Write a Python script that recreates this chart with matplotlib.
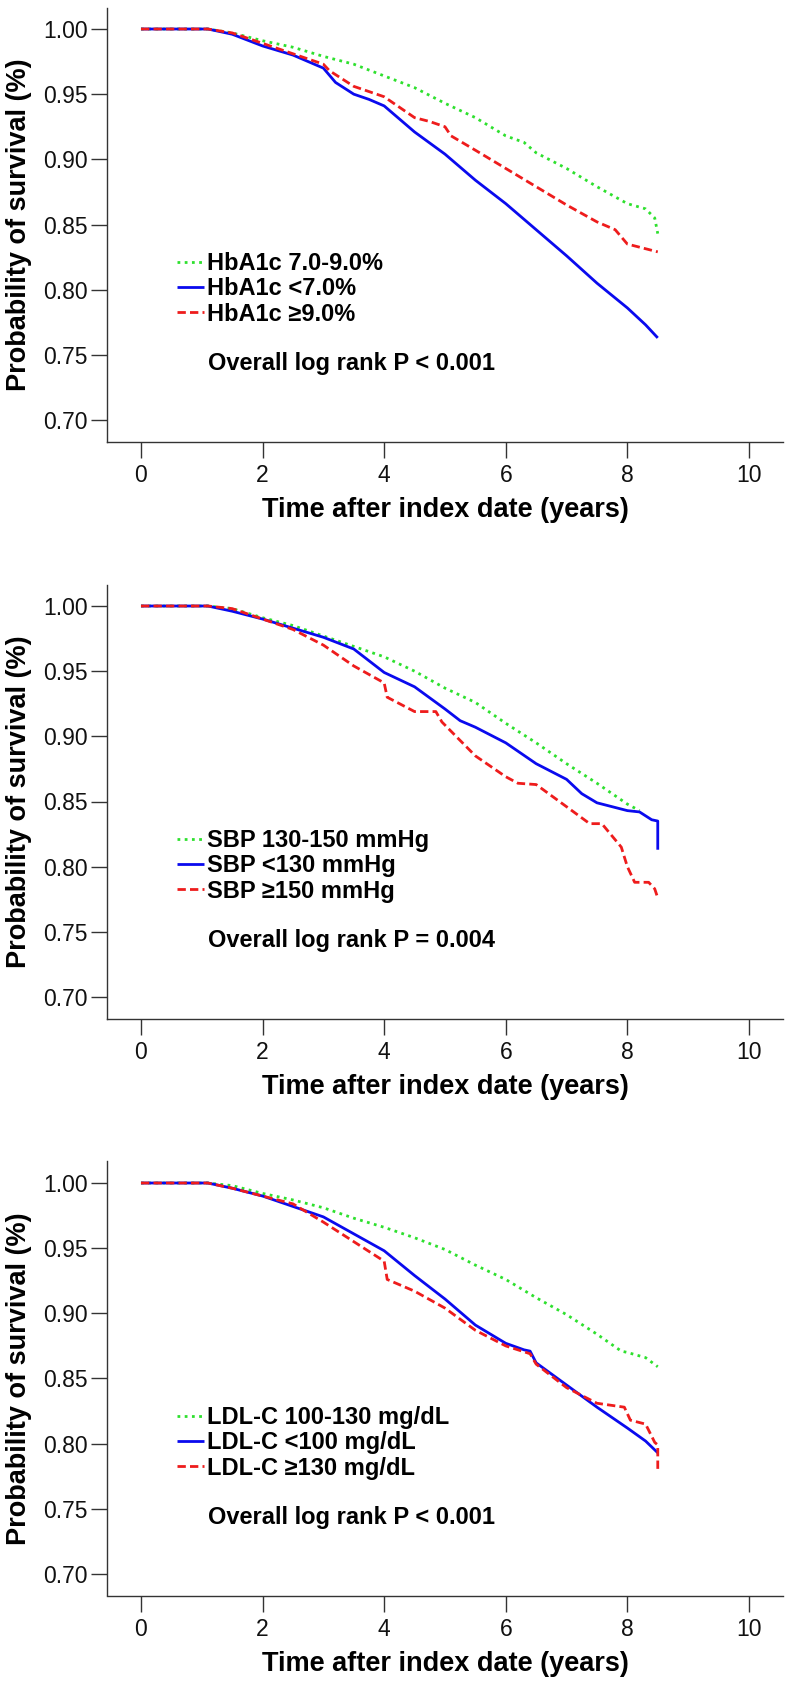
# ---------- IMPORT ------------
import matplotlib
matplotlib.use("Agg")
import matplotlib.pyplot as plt
from matplotlib.ticker import FormatStrFormatter
# ------------------------------


# ---------- DATA --------------
# panel 1: HbA1c groups (time in years, survival probability)
hba_mid_t = [0, 1.1, 1.5, 2.0, 2.5, 3.0, 3.5, 4.0, 4.5, 5.0, 5.5, 6.0, 6.3, 6.5, 7.0, 7.5, 8.0, 8.3, 8.45, 8.5]
hba_mid_s = [1.0, 1.0, 0.997, 0.991, 0.986, 0.979, 0.973, 0.964, 0.955, 0.943, 0.932, 0.918, 0.913, 0.905, 0.893, 0.879, 0.866, 0.862, 0.855, 0.843]
hba_low_t = [0, 1.1, 1.5, 2.0, 2.5, 3.0, 3.2, 3.5, 3.75, 4.0, 4.5, 5.0, 5.5, 6.0, 6.5, 7.0, 7.5, 8.0, 8.3, 8.5]
hba_low_s = [1.0, 1.0, 0.996, 0.987, 0.980, 0.970, 0.959, 0.950, 0.946, 0.941, 0.921, 0.904, 0.884, 0.866, 0.846, 0.826, 0.805, 0.786, 0.773, 0.763]
hba_high_t = [0, 1.1, 1.5, 2.0, 2.5, 3.0, 3.1, 3.5, 4.0, 4.5, 4.75, 5.0, 5.1, 5.5, 6.0, 6.5, 7.0, 7.5, 7.8, 8.0, 8.5]
hba_high_s = [1.0, 1.0, 0.997, 0.989, 0.981, 0.973, 0.968, 0.956, 0.948, 0.932, 0.929, 0.925, 0.918, 0.907, 0.893, 0.879, 0.865, 0.852, 0.846, 0.835, 0.829]

# panel 2: SBP groups
sbp_mid_t = [0, 1.1, 1.5, 2.0, 2.5, 3.0, 3.5, 4.0, 4.5, 5.0, 5.5, 6.0, 6.5, 7.0, 7.5, 8.0, 8.2]
sbp_mid_s = [1.0, 1.0, 0.998, 0.991, 0.985, 0.977, 0.969, 0.961, 0.950, 0.937, 0.926, 0.910, 0.895, 0.879, 0.864, 0.848, 0.843]
sbp_low_t = [0, 1.1, 1.5, 2.0, 2.5, 3.0, 3.5, 4.0, 4.5, 5.0, 5.25, 5.5, 6.0, 6.5, 7.0, 7.25, 7.5, 8.0, 8.2, 8.4, 8.5, 8.5]
sbp_low_s = [1.0, 1.0, 0.996, 0.990, 0.983, 0.976, 0.967, 0.949, 0.938, 0.921, 0.912, 0.907, 0.895, 0.879, 0.867, 0.856, 0.849, 0.843, 0.842, 0.836, 0.835, 0.813]
sbp_high_t = [0, 1.1, 1.5, 2.0, 2.5, 3.0, 3.5, 4.0, 4.05, 4.5, 4.85, 4.95, 5.5, 6.0, 6.2, 6.5, 7.0, 7.38, 7.58, 7.9, 8.0, 8.12, 8.35, 8.45, 8.5]
sbp_high_s = [1.0, 1.0, 0.998, 0.990, 0.982, 0.970, 0.954, 0.941, 0.930, 0.919, 0.919, 0.911, 0.885, 0.869, 0.864, 0.863, 0.846, 0.833, 0.833, 0.815, 0.800, 0.788, 0.788, 0.783, 0.776]

# panel 3: LDL-C groups
ldl_mid_t = [0, 1.1, 1.5, 2.0, 2.5, 3.0, 3.5, 4.0, 4.5, 5.0, 5.5, 6.0, 6.5, 7.0, 7.5, 7.9, 8.0, 8.3, 8.5]
ldl_mid_s = [1.0, 1.0, 0.998, 0.992, 0.987, 0.981, 0.973, 0.966, 0.958, 0.949, 0.937, 0.926, 0.912, 0.899, 0.884, 0.871, 0.870, 0.866, 0.859]
ldl_low_t = [0, 1.1, 1.5, 2.0, 2.5, 3.0, 3.5, 4.0, 4.5, 5.0, 5.5, 6.0, 6.3, 6.4, 6.5, 7.0, 7.5, 8.0, 8.3, 8.5]
ldl_low_s = [1.0, 1.0, 0.996, 0.990, 0.982, 0.974, 0.961, 0.948, 0.929, 0.911, 0.891, 0.877, 0.872, 0.871, 0.862, 0.845, 0.828, 0.812, 0.802, 0.793]
ldl_high_t = [0, 1.1, 1.5, 2.0, 2.5, 3.0, 3.5, 4.0, 4.05, 4.5, 5.0, 5.5, 6.0, 6.4, 6.5, 7.0, 7.5, 7.95, 8.05, 8.3, 8.45, 8.5, 8.5]
ldl_high_s = [1.0, 1.0, 0.996, 0.990, 0.984, 0.970, 0.955, 0.940, 0.926, 0.917, 0.904, 0.887, 0.875, 0.869, 0.861, 0.843, 0.831, 0.828, 0.818, 0.815, 0.801, 0.799, 0.778]

group_labels = [
    ["HbA1c 7.0-9.0%", "HbA1c <7.0%", "HbA1c \u22659.0%"],
    ["SBP 130-150 mmHg", "SBP <130 mmHg", "SBP \u2265150 mmHg"],
    ["LDL-C 100-130 mg/dL", "LDL-C <100 mg/dL", "LDL-C \u2265130 mg/dL"],
]
logrank_texts = ["Overall log rank P < 0.001", "Overall log rank P = 0.004", "Overall log rank P < 0.001"]

x_ticks = [0, 2, 4, 6, 8, 10]
y_ticks = [0.70, 0.75, 0.80, 0.85, 0.90, 0.95, 1.00]
# ------------------------------


# ---------- CONFIG ------------
plt.rcParams['font.family'] = ['Liberation Sans', 'DejaVu Sans']
fig_w, fig_h = 793, 1688
ax_left, ax_right = 107, 783       # pixels
ax_top, ax_bottom = 7.5, 441.5     # pixels, first panel
panel_step = 577                   # pixels between panels
col_green = '#2ee02e'
col_blue = '#0a0aee'
col_red = '#ee1c1c'
styles = [
    dict(color=col_green, linestyle=(0, (1, 1.6))),
    dict(color=col_blue, linestyle='-'),
    dict(color=col_red, linestyle=(0, (3, 1.5))),
]
# ------------------------------

panels = [
    [(hba_mid_t, hba_mid_s), (hba_low_t, hba_low_s), (hba_high_t, hba_high_s)],
    [(sbp_mid_t, sbp_mid_s), (sbp_low_t, sbp_low_s), (sbp_high_t, sbp_high_s)],
    [(ldl_mid_t, ldl_mid_s), (ldl_low_t, ldl_low_s), (ldl_high_t, ldl_high_s)],
]

fig = plt.figure(figsize=(fig_w / 100, fig_h / 100), dpi=100)

for k, curves in enumerate(panels):
    top = ax_top + k * panel_step
    bottom = ax_bottom + k * panel_step
    ax = fig.add_axes([ax_left / fig_w, 1 - bottom / fig_h,
                       (ax_right - ax_left) / fig_w, (bottom - top) / fig_h])

    for (t, s), st, lab in zip(curves, styles, group_labels[k]):
        ax.plot(t, s, lw=2.0, label=lab, solid_capstyle='butt', dash_capstyle='butt', **st)

    ax.set_xlim(-0.559, 10.56)
    ax.set_ylim(0.6835, 1.0165)
    ax.set_xticks(x_ticks)
    ax.set_yticks(y_ticks)
    ax.yaxis.set_major_formatter(FormatStrFormatter('%.2f'))
    ax.tick_params(direction='out', length=11.5, width=1.0, color='#333333',
                   labelsize=16.5, labelcolor='#111111')
    ax.tick_params(axis='y', pad=2.4)
    ax.tick_params(axis='x', pad=4.5)
    for side in ['top', 'right']:
        ax.spines[side].set_visible(False)
    for side in ['left', 'bottom']:
        ax.spines[side].set_linewidth(1.0)
        ax.spines[side].set_color('#333333')

    ax.set_ylabel("Probability of survival (%)", fontsize=19.5, fontweight='bold')
    ax.yaxis.set_label_coords(-0.1300, 0.5)
    ax.yaxis.label.set_verticalalignment('center')
    ax.set_xlabel("Time after index date (years)", fontsize=19.5, fontweight='bold')
    ax.xaxis.set_label_coords(0.5, -0.1585)
    ax.xaxis.label.set_verticalalignment('center')

    leg = ax.legend(loc='upper left', bbox_to_anchor=(0.1036, 0.437), frameon=False,
                    fontsize=17, handlelength=1.15, handletextpad=0.13,
                    labelspacing=0.1, borderpad=0, borderaxespad=0)
    for txt in leg.get_texts():
        txt.set_fontweight('bold')

    ax.text(0.1494, 0.1789, logrank_texts[k], transform=ax.transAxes,
            fontsize=17, fontweight='bold', va='center', ha='left')

fig.savefig("out.png", dpi=100, facecolor='white')
